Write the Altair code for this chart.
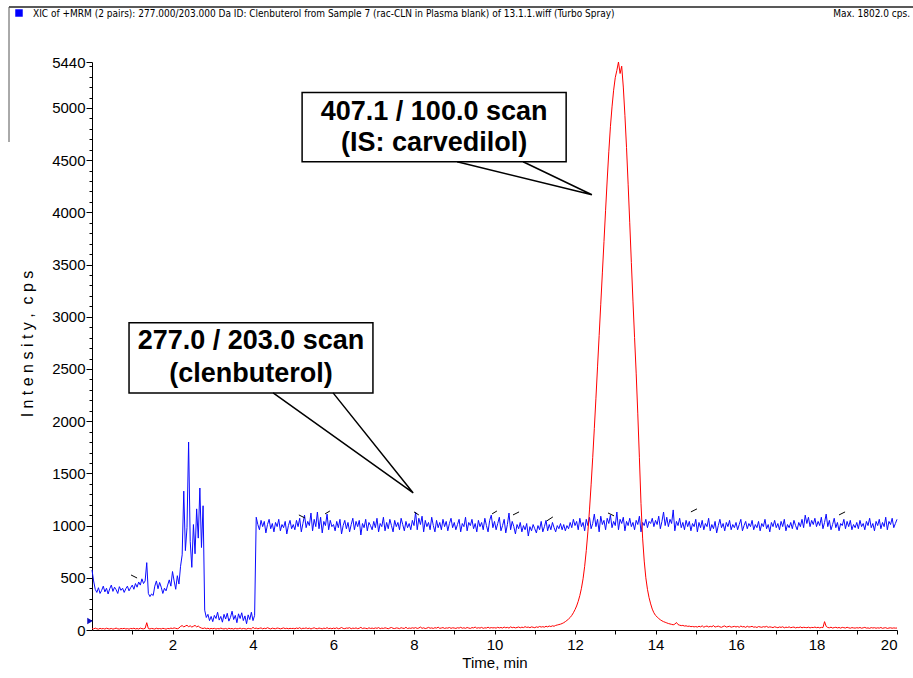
import altair as alt
import pandas as pd

STEP = 0.04  # scan spacing, min

# Blue trace: 277.0 / 203.0 (clenbuterol), one row per minute (25 scans)
blue_cps = [
    575, 470, 390, 360, 405, 350, 380, 420, 365, 400, 345, 395, 430, 370, 410, 385, 350, 415, 380, 400, 360, 395, 420, 375, 405,
    430, 390, 445, 410, 460, 430, 490, 445, 470, 645, 350, 320, 345, 330, 420, 470, 395, 455, 410, 350, 400, 375, 430, 480, 420,
    560, 470, 390, 520, 440, 610, 720, 1330, 760, 980, 1800, 850, 600, 1010, 730, 1160, 880, 1360, 790, 1190, 190, 120, 150, 90, 130,
    80, 140, 110, 170, 95, 130, 75, 150, 105, 160, 85, 120, 180, 100, 140, 70, 155, 110, 165, 90, 135, 60, 145, 100, 170,
    90, 140, 1080, 1010, 960, 1050, 990, 1040, 930, 1010, 1060, 970, 1020, 940, 1030, 990, 1060, 950, 1010, 980, 1040, 920, 1000, 1050, 970,
    1010, 960, 1050, 990, 1070, 940, 1020, 1100, 980, 1040, 1000, 1120, 950, 1060, 990, 1130, 970, 1080, 930, 1040, 1000, 1110, 960, 1050, 990,
    1010, 950, 1040, 980, 1060, 920, 1000, 1050, 970, 1030, 940, 1010, 1070, 960, 1040, 990, 1050, 910, 1020, 980, 1060, 950, 1030, 1000, 960,
    1040, 980, 1070, 940, 1020, 990, 1080, 950, 1030, 970, 1060, 1000, 940, 1050, 990, 1030, 960, 1070, 1010, 950, 1040, 980, 1020, 960, 1050,
    1000, 1130, 960, 1070, 1010, 1090, 940, 1050, 990, 1030, 960, 1080, 1000, 940, 1050, 980, 1030, 960, 1060, 990, 1040, 950, 1020, 1070, 980,
    1030, 960, 1010, 1060, 940, 1020, 990, 1080, 950, 1030, 1000, 1060, 970, 1020, 940, 1050, 990, 1030, 960, 1070, 1000, 940, 1050, 1100, 980,
    1040, 960, 1020, 1080, 950, 1000, 1060, 930, 1010, 1120, 960, 1040, 990, 920, 1010, 970, 1030, 940, 1000, 960, 1020, 900, 990, 950, 1010,
    970, 930, 1000, 960, 1040, 940, 990, 1050, 950, 1010, 960, 1030, 980, 940, 1000, 970, 1020, 960, 1010, 950, 1000, 970, 1030, 980, 1060,
    1000, 1040, 960, 1070, 990, 1030, 950, 1060, 1000, 1080, 970, 1020, 1110, 990, 1060, 940, 1090, 1010, 1050, 960, 1070, 1020, 1100, 980, 1040,
    1000, 1130, 960, 1060, 1020, 1080, 950, 1040, 1000, 1070, 990, 1030, 960, 1050, 1010, 1090, 940, 1030, 1000, 1060, 980, 1040, 1020, 1070, 990,
    1050, 1010, 1090, 970, 1040, 1130, 1000, 1080, 990, 1060, 1020, 1150, 950, 1040, 1000, 1070, 980, 1030, 960, 1050, 990, 1040, 950, 1020, 990,
    1060, 940, 1030, 980, 1050, 960, 1020, 990, 1070, 950, 1010, 970, 1040, 930, 1000, 1060, 980, 1020, 950, 1030, 990, 1050, 960, 1010, 980,
    1030, 960, 1010, 1060, 950, 1000, 1040, 970, 1020, 990, 1050, 960, 1010, 980, 1040, 950, 1020, 990, 1060, 970, 1010, 940, 1030, 990, 1050,
    980, 1020, 960, 1040, 990, 1060, 950, 1010, 980, 1030, 970, 1050, 1000, 960, 1030, 990, 1060, 980, 1100, 1020, 1080, 990, 1050, 1010, 1070,
    990, 1040, 1000, 1080, 970, 1030, 1110, 990, 1050, 960, 1010, 1070, 980, 1030, 950, 1020, 1000, 1060, 970, 1040, 990, 1050, 960, 1010, 980,
    1030, 970, 1050, 990, 1020, 960, 1040, 1000, 1070, 980, 1020, 950, 1040, 1000, 1060, 970, 1030, 990, 1080, 960, 1040, 1010, 1070, 980, 1020,
    1060,
]

# Red trace: 407.1 / 100.0 (IS: carvedilol), one row per minute (25 scans)
red_cps = [
    15, 10, 18, 12, 8, 16, 11, 14, 9, 17, 12, 10, 15, 8, 13, 18, 11, 9, 14, 12, 16, 10, 13, 8, 15,
    12, 17, 10, 14, 9, 18, 13, 11, 16, 70, 14, 10, 15, 12, 9, 17, 11, 14, 10, 16, 13, 8, 15, 12, 18,
    14, 20, 16, 12, 18, 35, 42, 30, 38, 45, 32, 40, 28, 36, 44, 30, 38, 25, 18, 14, 20, 12, 17, 10, 15,
    12, 16, 9, 14, 11, 18, 13, 10, 15, 8, 17, 12, 14, 9, 16, 11, 13, 18, 10, 15, 12, 9, 16, 13, 11,
    25, 14, 18, 12, 16, 20, 11, 17, 13, 22, 15, 10, 18, 14, 12, 19, 16, 11, 15, 20, 13, 17, 12, 16, 14,
    16, 12, 19, 14, 22, 11, 17, 15, 20, 13, 18, 10, 16, 21, 14, 12, 19, 15, 11, 18, 14, 22, 13, 17, 12,
    18, 14, 21, 12, 16, 24, 15, 13, 19, 17, 22, 12, 18, 15, 20, 13, 17, 25, 14, 19, 16, 12, 21, 15, 18,
    14, 20, 16, 23, 13, 18, 15, 21, 17, 12, 19, 24, 16, 14, 20, 18, 13, 22, 17, 15, 26, 14, 19, 16, 21,
    17, 23, 15, 19, 28, 16, 21, 14, 18, 25, 17, 20, 15, 22, 18, 27, 16, 19, 23, 15, 20, 18, 24, 16, 21,
    19, 15, 22, 18, 26, 17, 21, 16, 24, 19, 15, 23, 20, 28, 17, 22, 18, 25, 16, 21, 19, 27, 18, 23, 20,
    22, 18, 26, 20, 24, 19, 28, 21, 25, 18, 30, 22, 26, 20, 24, 29, 21, 27, 23, 32, 25, 28, 22, 30, 26,
    22, 30, 25, 34, 28, 32, 27, 36, 30, 38, 33, 40, 36, 44, 48, 52, 56, 62, 70, 80, 92, 105, 120, 140, 165,
    195, 230, 275, 330, 400, 490, 610, 760, 940, 1150, 1390, 1650, 1930, 2220, 2520, 2820, 3120, 3420, 3720, 4020, 4310, 4580, 4820, 5010, 5170,
    5290, 5360, 5440, 5330, 5400, 5200, 4930, 4620, 4270, 3900, 3520, 3150, 2800, 2460, 2070, 1650, 1210, 880, 660, 500, 390, 310, 250, 200, 165,
    140, 125, 110, 98, 88, 80, 74, 68, 62, 58, 54, 50, 56, 72, 52, 46, 42, 44, 38, 40, 35, 37, 32, 34, 30,
    33, 28, 36, 30, 40, 27, 34, 38, 29, 35, 31, 42, 28, 33, 37, 30, 26, 34, 39, 28, 32, 36, 27, 31, 35,
    29, 34, 26, 38, 30, 33, 25, 36, 28, 31, 35, 27, 30, 24, 33, 29, 26, 32, 28, 35, 25, 30, 27, 23, 31,
    26, 22, 29, 25, 31, 21, 27, 24, 30, 22, 26, 28, 20, 25, 23, 29, 21, 26, 24, 22, 27, 20, 25, 23, 28,
    22, 26, 20, 25, 23, 80, 35, 24, 21, 27, 19, 23, 26, 20, 24, 18, 25, 22, 19, 26, 21, 17, 23, 20, 18,
    22, 19, 24, 17, 21, 25, 18, 20, 16, 23, 19, 22, 17, 21, 18, 24, 16, 20, 22, 15, 19, 21, 17, 20, 18,
    19,
]

# Small peak-label hooks drawn by the acquisition software
hook_t0 = [0.97, 5.14, 5.79, 8.00, 9.94, 10.46, 11.30, 12.82, 14.88, 18.56]
hook_t1 = [1.12, 5.29, 5.91, 8.12, 10.06, 10.61, 11.45, 12.97, 15.03, 18.71]
hook_i0 = [527, 1102, 1112, 1131, 1112, 1102, 1045, 1121, 1131, 1102]
hook_i1 = [498, 1073, 1140, 1102, 1140, 1131, 1083, 1093, 1160, 1131]

# Callouts
call_line1 = ["407.1 / 100.0 scan", "277.0 / 203.0 scan"]
call_line2 = ["(IS: carvedilol)", "(clenbuterol)"]
box_t0 = [5.22, 0.92]
box_t1 = [11.78, 6.98]
box_i0 = [4485, 2271]
box_i1 = [5147, 2942]
text_t = [8.50, 3.95]
line1_i = [4888, 2693]
line2_i = [4591, 2377]
ptr_left_t = [9.07, 4.50]
ptr_right_t = [10.71, 5.99]
ptr_tip_t = [12.42, 7.98]
ptr_tip_i = [4169, 1313]

y_ticks = list(range(0, 5401, 100)) + [5440]
x_ticks = list(range(1, 21))

HEADER = "XIC of +MRM (2 pairs): 277.000/203.000 Da ID: Clenbuterol from Sample 7 (rac-CLN in Plasma blank) of 13.1.1.wiff (Turbo Spray)"
MAXTXT = "Max. 1802.0 cps."
NB = "\u00a0"
YTITLE = NB.join("Intensity,") + NB + NB + NB.join("cps")

FONT = "Liberation Sans, Arial, sans-serif"
NARROW = "Liberation Sans Narrow, Arial Narrow, DejaVu Sans Condensed, sans-serif"

blue_df = pd.DataFrame({"t": [round(i * STEP, 2) for i in range(len(blue_cps))], "cps": blue_cps})
red_df = pd.DataFrame({"t": [round(i * STEP, 2) for i in range(len(red_cps))], "cps": red_cps})
hooks_df = pd.DataFrame({"t": hook_t0, "t1": hook_t1, "cps": hook_i0, "c1": hook_i1})
box_df = pd.DataFrame({"t": box_t0, "t1": box_t1, "cps": box_i0, "c1": box_i1})
txt_df = pd.DataFrame({"t": text_t + text_t, "cps": line1_i + line2_i,
                       "s": call_line1 + call_line2})
ptr_rows = []
for k in range(len(box_t0)):
    ptr_rows.append({"id": k, "ord": 0, "t": ptr_left_t[k], "cps": box_i0[k]})
    ptr_rows.append({"id": k, "ord": 1, "t": ptr_tip_t[k], "cps": ptr_tip_i[k]})
    ptr_rows.append({"id": k, "ord": 2, "t": ptr_right_t[k], "cps": box_i0[k]})
ptr_df = pd.DataFrame(ptr_rows)
one = pd.DataFrame({"k": [0]})

xscale = alt.Scale(domain=[0, 20], nice=False, zero=False)
yscale = alt.Scale(domain=[0, 5440], nice=False)

x_axis = alt.Axis(values=x_ticks, format="d",
                  labelExpr="datum.value % 2 === 0 ? datum.label : ''",
                  tickSize=4, labelPadding=3, labelOverlap=False, grid=False,
                  labelFont=FONT, labelFontSize=15, labelColor="black",
                  title="Time, min", titleFont=FONT, titleFontSize=15,
                  titleFontWeight="normal", titleColor="black", titlePadding=3)
y_axis = alt.Axis(values=y_ticks, format="d",
                  labelExpr="(datum.value % 500 === 0 || datum.value === 5440) ? datum.label : ''",
                  tickSize={"condition": {"test": "datum.value % 500 === 0 || datum.value === 5440", "value": 6}, "value": 3},
                  labelPadding=1, labelOverlap=False, grid=False,
                  labelFont=FONT, labelFontSize=15, labelColor="black", title=None)

X = alt.X("t:Q", scale=xscale, axis=x_axis)
Y = alt.Y("cps:Q", scale=yscale, axis=y_axis)

blue = alt.Chart(blue_df).mark_line(color="#0a0aff", strokeWidth=1).encode(x=X, y=Y)
red = alt.Chart(red_df).mark_line(color="#ff0000", strokeWidth=1).encode(x=X, y=Y)
hooks = alt.Chart(hooks_df).mark_rule(color="black", strokeWidth=1).encode(
    x=X, x2="t1:Q", y=Y, y2="c1:Q"
)
boxes = alt.Chart(box_df).mark_rect(fill="white", stroke="black", strokeWidth=1.5).encode(
    x=X, x2="t1:Q", y=Y, y2="c1:Q"
)
ptrs = alt.Chart(ptr_df).mark_line(color="black", strokeWidth=1.5, strokeJoin="miter").encode(
    x=X, y=Y, detail="id:N", order="ord:Q"
)
txt = alt.Chart(txt_df).mark_text(font=FONT, fontSize=27, fontWeight="bold", align="center",
                                  baseline="alphabetic", color="black").encode(
    x=X, y=Y, text="s:N"
)

ytitle = alt.Chart(one).mark_text(font=FONT, fontSize=16, angle=270, align="center",
                                  baseline="middle", color="black").encode(
    x=alt.value(-64), y=alt.value(282), text=alt.value(YTITLE)
)
header = alt.Chart(one).mark_text(font=NARROW, fontSize=10, align="left", baseline="middle",
                                  color="black").encode(
    x=alt.value(-59), y=alt.value(-48), text=alt.value(HEADER)
)
maxtxt = alt.Chart(one).mark_text(font=NARROW, fontSize=10, align="right", baseline="middle",
                                  color="black").encode(
    x=alt.value(818), y=alt.value(-48), text=alt.value(MAXTXT)
)
square = alt.Chart(one).mark_square(size=56, color="#0000ff", opacity=1).encode(
    x=alt.value(-73), y=alt.value(-49)
)
topline = alt.Chart(one).mark_rule(color="#222222", strokeWidth=1.5).encode(
    x=alt.value(-83), x2=alt.value(821), y=alt.value(-55)
)
sideline = alt.Chart(one).mark_rule(color="#555555", strokeWidth=1).encode(
    x=alt.value(-83), y=alt.value(-55), y2=alt.value(80)
)
marker = alt.Chart(one).mark_point(shape="triangle-right", filled=True, size=40,
                                   color="#1010c0", opacity=1).encode(
    x=alt.value(-2), y=alt.value(559)
)

chart = alt.layer(
    blue, red, hooks, boxes, ptrs, txt, ytitle, header, maxtxt, square,
    topline, sideline, marker
).properties(
    width=805, height=568,
    padding={"left": 92, "top": 62, "right": 16, "bottom": 48},
    autosize=alt.AutoSizeParams(type="none"),
).configure_view(stroke="transparent").configure_axis(
    domainColor="black", tickColor="black", domainWidth=1, tickWidth=1
)

chart.save("out.html", embed_options={"renderer": "svg", "actions": False})
